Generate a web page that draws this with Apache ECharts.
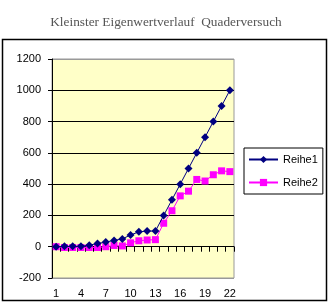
<!DOCTYPE html>
<html><head><meta charset="utf-8">
<script src="https://cdn.jsdelivr.net/npm/echarts@6/dist/echarts.min.js"></script>
<style>html,body{margin:0;padding:0;background:#fff}#c{width:332px;height:306px}</style>
</head><body><div id="c"></div>
<script>
const titleText = 'Kleinster Eigenwertverlauf  Quaderversuch';
const categories = ['1','2','3','4','5','6','7','8','9','10','11','12','13','14','15','16','17','18','19','20','21','22'];
const reihe1 = [0,3,3,3,10,20,30,40,50,75,95,100,100,200,300,400,500,600,700,800,900,1000];
const reihe2 = [0,-5,-5,-5,-5,-5,0,8,5,25,38,43,45,150,230,325,355,430,420,460,485,480];
const seriesNames = ['Reihe1','Reihe2'];
const yTicks = {min:-200, max:1200, interval:200};

const chart = echarts.init(document.getElementById('c'), null, {renderer:'canvas'});
chart.setOption({
  animation:false,
  backgroundColor:'#fff',
  title:{text:titleText, left:'center', top:11,
    textStyle:{fontFamily:'Liberation Serif', fontWeight:'normal', fontSize:13.3, color:'#555'}},
  graphic:[{type:'rect', shape:{x:2.5,y:39.5,width:324,height:261}, style:{fill:null, stroke:'#000', lineWidth:1.5}, z:-1}],
  grid:{left:52, right:98, top:59, bottom:28, show:true, backgroundColor:'#FFFFC8', borderColor:'#999', borderWidth:1},
  legend:{left:244, top:148, orient:'vertical', padding:[6,5,6,4], itemGap:12, itemWidth:29, itemHeight:9,
    borderColor:'#000', borderWidth:1, backgroundColor:'#fff',
    textStyle:{fontFamily:'Liberation Sans', fontSize:11, color:'#000'}, data:seriesNames},
  xAxis:{type:'category', data:categories, boundaryGap:true,
    axisLine:{onZero:true, lineStyle:{color:'#000', width:1}},
    axisTick:{show:true, interval:0, length:5, lineStyle:{color:'#000'}},
    axisLabel:{interval:2, margin:10, fontFamily:'Liberation Sans', fontSize:11, color:'#000'},
    splitLine:{show:false}},
  yAxis:{type:'value', min:yTicks.min, max:yTicks.max, interval:yTicks.interval,
    axisLine:{show:true, lineStyle:{color:'#000'}},
    axisTick:{show:true, length:4, lineStyle:{color:'#000'}},
    axisLabel:{margin:11, fontFamily:'Liberation Sans', fontSize:11, color:'#000', formatter:function(v){return String(v);}},
    splitLine:{show:true, lineStyle:{color:['#999','#000','#000','#000','#000','#000','#000','#999'], width:1}}},
  series:[
    {name:seriesNames[0], type:'line', data:reihe1, symbol:'diamond', symbolSize:8, showAllSymbol:true,
      lineStyle:{color:'#000080', width:1}, itemStyle:{color:'#000080'}, z:3},
    {name:seriesNames[1], type:'line', data:reihe2, symbol:'rect', symbolSize:7, showAllSymbol:true,
      lineStyle:{color:'#FF00FF', width:1}, itemStyle:{color:'#FF00FF'}, z:2}
  ]
});
</script></body></html>
